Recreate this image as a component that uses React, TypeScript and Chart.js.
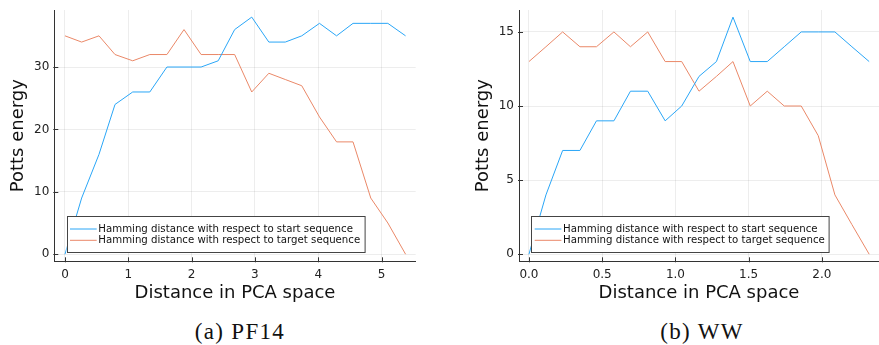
import React, { useEffect, useRef } from "react";
import { Chart, registerables } from "chart.js";

Chart.register(...registerables);

// ---------- data ----------
const pf14Distance = [0, 0.263, 0.537, 0.79, 1.07, 1.34, 1.61, 1.88, 2.15, 2.42, 2.68, 2.95, 3.22, 3.48, 3.74, 4.02, 4.29, 4.55, 4.83, 5.1, 5.38];
const pf14Start = [0, 9, 16, 24, 26, 26, 30, 30, 30, 31, 36, 38, 34, 34, 35, 37, 35, 37, 37, 37, 35];
const pf14Target = [35, 34, 35, 32, 31, 32, 32, 36, 32, 32, 32, 26, 29, 28, 27, 22, 18, 18, 9, 5, 0];

const wwDistance = [0, 0.116, 0.23, 0.348, 0.461, 0.58, 0.693, 0.811, 0.93, 1.043, 1.161, 1.28, 1.393, 1.511, 1.627, 1.743, 1.859, 1.975, 2.089, 2.205, 2.323];
const wwStart = [0, 4, 7, 7, 9, 9, 11, 11, 9, 10, 12, 13, 16, 13, 13, 14, 15, 15, 15, 14, 13];
const wwTarget = [13, 14, 15, 14, 14, 15, 14, 15, 13, 13, 11, 12, 13, 10, 11, 10, 10, 8, 4, 2, 0];

const pf14XTicks = [0, 1, 2, 3, 4, 5];
const pf14YTicks = [0, 10, 20, 30];
const wwXTicks = [0, 0.5, 1, 1.5, 2];
const wwYTicks = [0, 5, 10, 15];

const seriesLabels = [
  "Hamming distance with respect to start sequence",
  "Hamming distance with respect to target sequence",
];
const xTitle = "Distance in PCA space";
const yTitle = "Potts energy";
const captions = ["(a) PF14", "(b) WW"];

const BLUE = "#2AA6F7";
const ORANGE = "#EA8868";

// ---------- plugins ----------
const legendBox = {
  id: "legendBox",
  afterDatasetsDraw(chart: any) {
    const { ctx, chartArea } = chart;
    const w = 297.6;
    const h = 36;
    const x = chartArea.left + 12.4;
    const y = chartArea.bottom - 9 - h;
    ctx.save();
    ctx.fillStyle = "#ffffff";
    ctx.fillRect(x, y, w, h);
    ctx.strokeStyle = "#444444";
    ctx.lineWidth = 1;
    ctx.strokeRect(Math.round(x) + 0.5, Math.round(y) + 0.5, w, h);
    ctx.font = "10.2px 'DejaVu Sans'";
    ctx.textBaseline = "middle";
    ctx.textAlign = "left";
    chart.data.datasets.forEach((ds: any, i: number) => {
      const ly = y + 12.7 + i * 11.3;
      ctx.strokeStyle = ds.borderColor;
      ctx.lineWidth = 1;
      ctx.beginPath();
      ctx.moveTo(x + 3.3, ly);
      ctx.lineTo(x + 30, ly);
      ctx.stroke();
      ctx.fillStyle = "#111111";
      ctx.fillText(ds.label, x + 31.6, ly);
    });
    ctx.restore();
  },
};

const innerTicks = {
  id: "innerTicks",
  afterDraw(chart: any) {
    const { ctx, chartArea } = chart;
    const xs = chart.scales.x;
    const ys = chart.scales.y;
    ctx.save();
    ctx.strokeStyle = "#333333";
    ctx.lineWidth = 1;
    ctx.beginPath();
    xs.ticks.forEach((t: any) => {
      const px = Math.round(xs.getPixelForValue(t.value)) + 0.5;
      ctx.moveTo(px, chartArea.bottom + 1);
      ctx.lineTo(px, chartArea.bottom - 4);
    });
    ys.ticks.forEach((t: any) => {
      const py = Math.round(ys.getPixelForValue(t.value)) + 0.5;
      ctx.moveTo(chartArea.left - 1, py);
      ctx.lineTo(chartArea.left + 4, py);
    });
    ctx.stroke();
    ctx.restore();
  },
};

type PanelProps = {
  xs: number[];
  start: number[];
  target: number[];
  xTicks: number[];
  yTicks: number[];
  xRange: [number, number];
  yRange: [number, number];
  decimals: number;
  padLeft: number;
  padRight: number;
  yAxisWidth: number;
  width: number;
  height: number;
};

function Panel(p: PanelProps) {
  const ref = useRef<HTMLCanvasElement | null>(null);
  useEffect(() => {
    if (!ref.current) return;
    const mk = (vals: number[]) => p.xs.map((x, i) => ({ x, y: vals[i] }));
    const chart = new Chart(ref.current, {
      type: "line",
      data: {
        datasets: [
          { label: seriesLabels[0], data: mk(p.start), borderColor: BLUE, borderWidth: 1, pointRadius: 0, tension: 0, fill: false },
          { label: seriesLabels[1], data: mk(p.target), borderColor: ORANGE, borderWidth: 1, pointRadius: 0, tension: 0, fill: false },
        ],
      },
      options: {
        animation: false,
        responsive: false,
        devicePixelRatio: 1,
        layout: { padding: { top: 10, left: p.padLeft, right: p.padRight, bottom: 0 } },
        plugins: { legend: { display: false }, tooltip: { enabled: false } },
        scales: {
          x: {
            type: "linear",
            min: p.xRange[0],
            max: p.xRange[1],
            afterBuildTicks: (s: any) => {
              s.ticks = p.xTicks.map((v) => ({ value: v }));
            },
            afterFit: (s: any) => {
              s.height = p.height - 261.3;
              s.paddingLeft = 0;
              s.paddingRight = 0;
            },
            grid: { color: "rgba(0,0,0,0.07)", drawTicks: false },
            border: { color: "#333333", width: 1 },
            ticks: {
              padding: 6,
              maxRotation: 0,
              autoSkip: false,
              color: "#222222",
              font: { family: "DejaVu Sans", size: 12 },
              callback: (v: any) => Number(v).toFixed(p.decimals),
            },
            title: {
              display: true,
              text: xTitle,
              color: "#111111",
              font: { family: "DejaVu Sans", size: 18 },
              padding: { top: 0, bottom: 6 },
            },
          },
          y: {
            type: "linear",
            min: p.yRange[0],
            max: p.yRange[1],
            afterBuildTicks: (s: any) => {
              s.ticks = p.yTicks.map((v) => ({ value: v }));
            },
            afterFit: (s: any) => {
              s.width = p.yAxisWidth;
              s.paddingTop = 0;
              s.paddingBottom = 0;
            },
            grid: { color: "rgba(0,0,0,0.07)", drawTicks: false },
            border: { color: "#333333", width: 1 },
            ticks: {
              padding: 5,
              autoSkip: false,
              color: "#222222",
              font: { family: "DejaVu Sans", size: 12 },
            },
            title: {
              display: true,
              text: yTitle,
              color: "#111111",
              font: { family: "DejaVu Sans", size: 18 },
              padding: { top: 8, bottom: 0 },
            },
          },
        },
      },
      plugins: [legendBox, innerTicks],
    } as any);
    return () => chart.destroy();
  }, []);
  return <canvas ref={ref} width={p.width} height={p.height} style={{ width: p.width, height: p.height, display: "block" }} />;
}

export default function App() {
  const captionStyle: React.CSSProperties = {
    position: "absolute",
    top: 319,
    width: 200,
    textAlign: "center",
    fontFamily: "'Liberation Serif', serif",
    fontSize: 23,
    letterSpacing: 1.3,
    lineHeight: "26px",
    color: "#111",
  };
  return (
    <div style={{ position: "absolute", left: 0, top: 0, width: 879, height: 345, background: "#fff", overflow: "hidden" }}>
      <div style={{ position: "absolute", left: 0, top: 0 }}>
        <Panel
          xs={pf14Distance}
          start={pf14Start}
          target={pf14Target}
          xTicks={pf14XTicks}
          yTicks={pf14YTicks}
          xRange={[-0.169, 5.54]}
          yRange={[-1.14, 39.14]}
          decimals={0}
          padLeft={0}
          padRight={24.3}
          yAxisWidth={54.3}
          width={440}
          height={310}
        />
      </div>
      <div style={{ position: "absolute", left: 440, top: 0 }}>
        <Panel
          xs={wwDistance}
          start={wwStart}
          target={wwTarget}
          xTicks={wwXTicks}
          yTicks={wwYTicks}
          xRange={[-0.068, 2.39]}
          yRange={[-0.48, 16.48]}
          decimals={1}
          padLeft={24.5}
          padRight={0}
          yAxisWidth={54.5}
          width={439}
          height={310}
        />
      </div>
      <div style={{ ...captionStyle, left: 140 }}>{captions[0]}</div>
      <div style={{ ...captionStyle, left: 602 }}>{captions[1]}</div>
    </div>
  );
}
